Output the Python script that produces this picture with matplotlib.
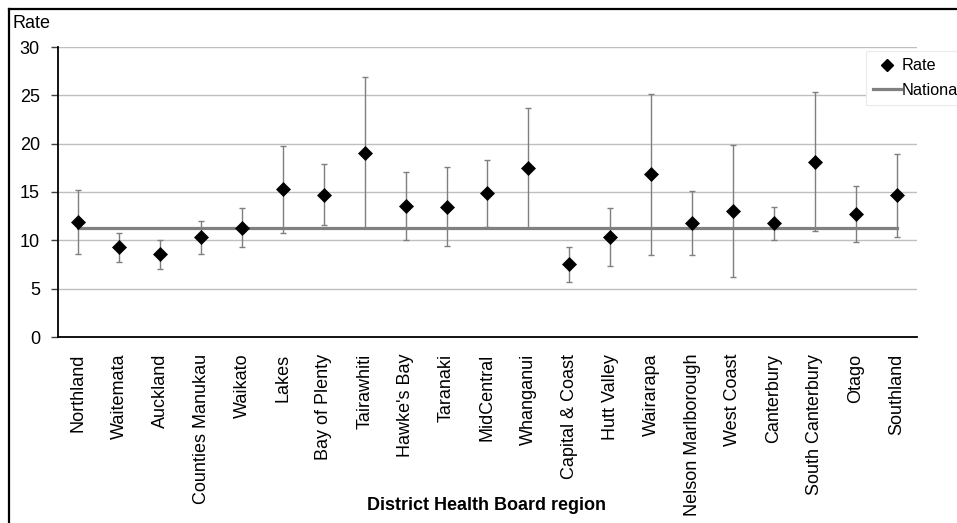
import matplotlib
matplotlib.use("Agg")
import matplotlib.pyplot as plt
from matplotlib.lines import Line2D
import numpy as np

plt.rcParams['font.family'] = ['Liberation Sans', 'DejaVu Sans']

regions = ["Northland", "Waitemata", "Auckland", "Counties Manukau", "Waikato",
           "Lakes", "Bay of Plenty", "Tairawhiti", "Hawke's Bay", "Taranaki",
           "MidCentral", "Whanganui", "Capital & Coast", "Hutt Valley", "Wairarapa",
           "Nelson Marlborough", "West Coast", "Canterbury", "South Canterbury",
           "Otago", "Southland"]
rate = [11.9, 9.35, 8.55, 10.35, 11.3, 15.3, 14.7, 19.05, 13.6, 13.45,
        14.9, 17.5, 7.6, 10.3, 16.85, 11.8, 13.05, 11.75, 18.15, 12.75, 14.7]
ci_upper = [15.2, 10.8, 10.05, 12.0, 13.35, 19.8, 17.9, 26.9, 17.1, 17.55,
            18.3, 23.7, 9.35, 13.3, 25.1, 15.1, 19.9, 13.4, 25.3, 15.65, 18.9]
ci_lower = [8.55, 7.8, 7.05, 8.6, 9.3, 10.8, 11.6, 11.3, 10.05, 9.4,
            11.4, 11.3, 5.7, 7.3, 8.45, 8.45, 6.2, 10.0, 11.0, 9.8, 10.35]
national = 11.3
y_ticks = [0, 5, 10, 15, 20, 25, 30]

W, H = 957, 523
fig = plt.figure(figsize=(W / 100, H / 100), dpi=100)
ax = fig.add_axes([58 / W, 1 - 337 / H, (917 - 58) / W, (337 - 47) / H])

x = np.arange(len(regions))
rate_a = np.array(rate)
yerr = [rate_a - np.array(ci_lower), np.array(ci_upper) - rate_a]

ax.errorbar(x, rate_a, yerr=yerr, fmt='none', ecolor='#7f7f7f',
            elinewidth=1.0, capsize=2.5, capthick=1.0, zorder=3)
ax.plot(x, [national] * len(x), color='#808080', lw=2.3, zorder=4,
        label='National')
ax.plot(x, rate_a, linestyle='none', marker='D', ms=6.8, color='black',
        mec='black', mew=0.5, zorder=5, label='Rate')

ax.set_xlim(-0.5, len(regions) - 0.5)
ax.set_ylim(0, 30)
ax.set_yticks(y_ticks)
ax.set_xticks(x)
ax.set_xticklabels(regions, rotation=90, fontsize=13)
ax.tick_params(axis='x', length=0, pad=12)
ax.tick_params(axis='y', length=5, width=1, color='#404040', labelsize=13, pad=8)
ax.grid(axis='y', color='#bfbfbf', lw=1)
ax.set_axisbelow(True)
for side in ('top', 'right'):
    ax.spines[side].set_visible(False)
for side in ('left', 'bottom'):
    ax.spines[side].set_color('black')
    ax.spines[side].set_linewidth(1.3)

fig.text(13 / W, 1 - 24 / H, 'Rate', fontsize=13, va='center', ha='left')
fig.text(487 / W, 1 - 505 / H, 'District Health Board region', fontsize=13,
         fontweight='bold', ha='center', va='center')

handles = [Line2D([], [], linestyle='none', marker='D', ms=6, color='black'),
           Line2D([], [], color='#808080', lw=2.3)]
leg = fig.legend(handles, ['Rate', 'National'], loc='upper left',
                 bbox_to_anchor=(866 / W, 1 - 51 / H), fontsize=11.7,
                 frameon=True, fancybox=False, framealpha=1,
                 edgecolor='#ebebeb', handlelength=1.7, handletextpad=0.05,
                 borderpad=0.45, labelspacing=0.6, borderaxespad=0)
leg.get_frame().set_linewidth(0.8)

# outer frame around the chart area
lx = 8.5 / W
ty = 1 - 8.5 / H
fig.add_artist(Line2D([lx, lx], [0, ty], color='black', lw=1.6,
                      transform=fig.transFigure))
fig.add_artist(Line2D([lx, 1], [ty, ty], color='black', lw=1.6,
                      transform=fig.transFigure))

fig.savefig('out.png', dpi=100)
